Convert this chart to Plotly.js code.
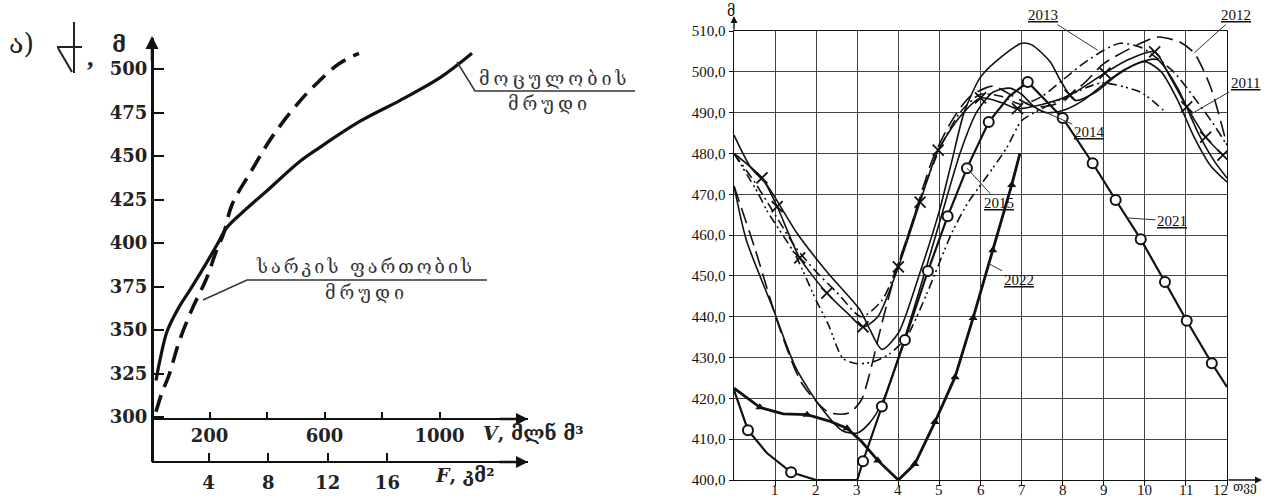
<!DOCTYPE html>
<html><head><meta charset="utf-8">
<script src="https://cdn.plot.ly/plotly-3.0.1.min.js"></script>
<style>html,body{margin:0;padding:0;background:#fff}#chart{width:1266px;height:501px}</style>
</head><body><div id="chart"></div>
<script>
// ---------- LEFT CHART DATA ----------
const volumeV = [14, 28, 52, 90, 132, 184, 226, 261, 324, 393, 515, 584, 724, 863, 1002, 1113];
const volumeH = [321, 333, 349, 362, 373, 387, 399, 409, 419, 429, 447, 455, 470, 482, 495, 509];
const areaF = [0.47, 0.87, 1.34, 2.01, 2.89, 3.83, 4.50, 5.03, 5.57, 6.91, 8.26, 10.07, 11.41, 12.75, 14.09];
const areaH = [303, 314, 324, 343, 362, 379, 395, 406, 422, 442, 461, 481, 493, 503, 509];
const leftYTicks = [300, 325, 350, 375, 400, 425, 450, 475, 500];
const vTicks = [200, 400, 600, 800, 1000];
const vTickText = ['200', '', '600', '', '1000'];
const fTicks = [4, 8, 12, 16];

// ---------- RIGHT CHART DATA ----------
const monthTicks = [1,2,3,4,5,6,7,8,9,10,11,12];
const levelTicks = [400,410,420,430,440,450,460,470,480,490,500,510];

const m2011 = [0, 0.68, 1.05, 1.6, 2.26, 2.8, 3.14, 3.5, 4.0, 4.53, 4.97, 5.5, 6.0, 6.5, 6.9, 7.5, 8.18, 9.03, 9.6, 10.24, 10.6, 11.02, 11.48, 11.9];
const v2011 = [480, 474, 467, 454.4, 445.8, 440.5, 437.5, 440, 452.2, 468.1, 480.8, 489, 493.6, 492.5, 491, 492, 494.3, 499.7, 503, 504.9, 499, 491.4, 484, 479.6];
const m2011x = [0.68, 1.05, 1.6, 2.26, 3.14, 4.0, 4.53, 4.97, 6.0, 6.9, 8.18, 9.03, 10.24, 11.02, 11.48, 11.9];
const v2011x = [474, 467, 454.4, 445.8, 437.5, 452.2, 468.1, 480.8, 493.6, 491, 494.3, 499.7, 504.9, 491.4, 484, 479.6];

const m2012 = [0, 0.5, 1.1, 1.65, 2.3, 2.8, 3.1, 3.3, 3.6, 3.95, 4.3, 4.85, 5.3, 5.75, 6.3, 6.8, 7.3, 7.8, 8.5, 9.0, 9.7, 10.3, 10.85, 11.2, 11.6, 12];
const v2012 = [472, 457, 437.5, 423.7, 416.6, 416.4, 419.6, 426, 438.4, 451.4, 462, 479, 488, 494, 496.5, 494, 491.5, 492, 497, 502, 506, 508.5, 507.3, 504.6, 496.3, 482];

const m2013 = [0, 0.5, 1.0, 1.5, 2.0, 2.5, 3.1, 3.6, 4.0, 4.5, 5.0, 5.5, 6.0, 6.5, 7.0, 7.5, 8.0, 8.5, 9.0, 9.4, 9.9, 10.7, 11.25, 11.65, 12];
const v2013 = [480, 473, 465, 457, 451, 446, 440, 444, 453, 468, 481, 490, 494.5, 494, 492, 494, 498, 502, 505.3, 507, 506, 500, 493, 487.5, 482];

const m2014 = [0, 0.3, 0.95, 1.5, 2.1, 2.65, 3.0, 3.3, 3.6, 4.0, 4.5, 5.0, 5.5, 5.9, 6.3, 6.7, 7.0, 7.3, 7.6, 8.0, 8.5, 9.0, 9.5, 10.0, 10.4, 10.8, 11.2, 11.6, 12];
const v2014 = [472, 458.8, 442, 427.6, 418, 412, 411.5, 414, 418.8, 430, 446, 463, 480, 490, 495, 496, 494.5, 491.5, 490, 490.5, 493, 497, 500.5, 502.5, 500, 493, 484, 477, 473];

const mOther = [0, 0.4, 0.8, 1.53, 2.26, 3.07, 3.3, 3.6, 4.0, 4.5, 5.0, 5.3, 5.6, 6.0, 6.5, 7.0, 7.25, 7.7, 7.94, 8.3, 8.8, 9.3, 9.8, 10.3, 10.8, 11.3, 11.7, 12];
const vOther = [484.5, 476.7, 472.3, 460.5, 451, 441.6, 437, 432, 436, 450, 466, 478, 490, 498.7, 503.6, 507, 506.6, 502.4, 498, 493, 495, 499, 502, 503, 496, 485, 478, 474];

const m2015 = [0, 0.6, 0.8, 1.5, 2.0, 2.3, 2.65, 3.0, 3.4, 3.8, 4.2, 4.7, 5.3, 5.7, 6.3, 6.65, 7.0, 7.5, 8.0, 8.75, 9.0, 9.9, 10.45];
const v2015 = [480, 470, 466, 455, 444, 438, 429.8, 428.5, 429, 431, 435, 445.8, 460.5, 468, 476.4, 481.6, 488, 491, 493.5, 496.8, 497.3, 495, 490.6];

const m2021 = [0, 0.34, 0.8, 1.39, 2.0, 3.0, 3.14, 3.6, 4.16, 4.72, 5.2, 5.67, 6.2, 6.7, 7.15, 8.0, 8.73, 9.29, 9.9, 10.49, 11.02, 11.63, 12];
const v2021 = [422, 412.2, 406.6, 401.9, 400, 400, 404.6, 418, 434.3, 451.2, 464.6, 476.4, 487.7, 494, 497.5, 488.7, 477.6, 468.6, 459, 448.5, 439, 428.6, 422.8];
const m2021o = [0.34, 1.39, 3.14, 3.6, 4.16, 4.72, 5.2, 5.67, 6.2, 7.15, 8.0, 8.73, 9.29, 9.9, 10.49, 11.02, 11.63];
const v2021o = [412.2, 401.9, 404.6, 418, 434.3, 451.2, 464.6, 476.4, 487.7, 497.5, 488.7, 477.6, 468.6, 459, 448.5, 439, 428.6];

const m2022 = [0, 0.63, 1.2, 1.78, 2.3, 2.75, 3.1, 3.5, 4.0, 4.4, 4.89, 5.38, 5.82, 6.3, 6.76, 6.96];
const v2022 = [422.5, 417.8, 416.2, 416, 414.5, 412.7, 409.5, 404.8, 400, 403.9, 414.2, 425.2, 439.7, 456.3, 472.3, 480];
const m2022t = [0.63, 1.78, 2.75, 3.5, 4.4, 4.89, 5.38, 5.82, 6.3, 6.76];
const v2022t = [417.8, 416, 412.7, 404.8, 403.9, 414.2, 425.2, 439.7, 456.3, 472.3];

// ---------- layout helpers ----------
const W = 1266, H = 501;
const px = x => x / W, py = y => 1 - y / H;
const INK = '#111';
const serif = 'Liberation Serif, Times New Roman, serif';
const geo = 'DejaVu Serif, DejaVu Sans, serif';
const boldSerif = {family: 'DejaVu Serif, serif', size: 18, color: '#222', weight: 'bold'};

const thin = (x, y, dash, name) => ({x, y, xaxis: 'x3', yaxis: 'y3', mode: 'lines', name,
  line: {color: INK, width: 1.6, dash: dash, shape: 'spline', smoothing: 0.7}, hoverinfo: 'skip'});

const traces = [
  // left chart
  {x: volumeV, y: volumeH, xaxis: 'x', yaxis: 'y', mode: 'lines',
   line: {color: INK, width: 3.2, shape: 'spline'}},
  {x: areaF, y: areaH, xaxis: 'x2', yaxis: 'y', mode: 'lines',
   line: {color: INK, width: 3.6, dash: '17px,9px', shape: 'spline'}},
  // right chart
  thin(m2011, v2011, 'solid', '2011'),
  {x: m2011x, y: v2011x, xaxis: 'x3', yaxis: 'y3', mode: 'markers',
   marker: {symbol: 'x-thin-open', size: 11, color: INK, line: {width: 1.8, color: INK}}},
  thin(m2012, v2012, '16px,7px', '2012'),
  thin(m2013, v2013, '10px,4px,2px,4px', '2013'),
  thin(m2014, v2014, 'solid', '2014'),
  thin(mOther, vOther, 'solid', ''),
  thin(m2015, v2015, '9px,4px,2px,3px,2px,4px', '2015'),
  {x: m2021, y: v2021, xaxis: 'x3', yaxis: 'y3', mode: 'lines',
   line: {color: INK, width: 2.2}},
  {x: m2021o, y: v2021o, xaxis: 'x3', yaxis: 'y3', mode: 'markers',
   marker: {symbol: 'circle', size: 10, color: '#fff', line: {width: 2, color: INK}}},
  {x: m2022, y: v2022, xaxis: 'x3', yaxis: 'y3', mode: 'lines',
   line: {color: INK, width: 2.8}},
  {x: m2022t, y: v2022t, xaxis: 'x3', yaxis: 'y3', mode: 'markers',
   marker: {symbol: 'triangle-up', size: 8, color: INK}}
];

const lab = (x, y, text, ax, ay) => ({xref: 'x3', yref: 'y3', x, y, ax, ay,
  text: '<span style="text-decoration:underline">' + text + '</span>',
  showarrow: true, arrowhead: 0, arrowwidth: 1, arrowcolor: '#333',
  font: {family: serif, size: 15, color: INK}});

const arrow = (tx, ty, ax, ay, w) => ({xref: 'paper', yref: 'paper', x: px(tx), y: py(ty),
  ax: ax, ay: ay, text: '', showarrow: true, arrowhead: 2, arrowsize: 1, arrowwidth: w, arrowcolor: INK});

const txt = (x, y, text, font, xanchor) => ({xref: 'paper', yref: 'paper', x: px(x), y: py(y),
  text, showarrow: false, font, xanchor: xanchor || 'center', yanchor: 'middle'});

const geoFont = {family: geo, size: 18, color: '#333'};

// month tick labels placed under the right chart's axis
const monthLabels = monthTicks.map(m => ({xref: 'x3', yref: 'paper', x: m, y: py(490),
  text: String(m), showarrow: false, font: {family: serif, size: 15, color: INK},
  xanchor: m === 12 ? 'right' : 'center', xshift: m === 12 ? 3 : 0, yanchor: 'middle'}));

const annotations = [
  // right chart labels
  lab(8.85, 505.3, '2013', -55, -35),
  lab(11.2, 504.6, '2012', 42, -38),
  lab(11.1, 489.5, '2011', 55, -32),
  lab(7.6, 490, '2014', 43, 19),
  lab(5.67, 476.4, '2015', 32, 35),
  lab(9.57, 464.2, '2021', 45, 3),
  lab(6.2, 453, '2022', 30, 16),
  ...monthLabels,
  // right axes arrows and titles
  arrow(1262, 480, -35, 0, 1.4),
  arrow(734, 16, 0, 15, 1.4),
  txt(731, 11, 'მ', {family: geo, size: 14, color: INK}),
  txt(1245, 487, 'თვე', {family: geo, size: 12, color: INK}),
  // left axes arrows
  arrow(152, 36, 0, 26, 2.6),
  arrow(528, 419, -30, 0, 2.4),
  arrow(528, 462, -30, 0, 2.4),
  // left texts
  txt(21, 43, 'ა)', {family: geo, size: 27, color: '#222'}),
  txt(90, 58, ',', {family: serif, size: 26, color: '#222', weight: 'bold'}),
  txt(119, 44, 'მ', {family: geo, size: 22, color: '#222', weight: 'bold'}),
  txt(554, 78, '<span style="letter-spacing:4px">მოცულობის</span>', geoFont),
  txt(549, 104, '<span style="letter-spacing:4px">მრუდი</span>', geoFont),
  txt(365, 266, '<span style="letter-spacing:3px">სარკის ფართობის</span>', geoFont),
  txt(366, 292, '<span style="letter-spacing:4px">მრუდი</span>', geoFont),
  txt(481, 433, '<i>V</i>, მლნ მ³', {family: 'DejaVu Serif, serif', size: 19, color: '#222', weight: 'bold'}, 'left'),
  txt(433, 475, '<i>F</i>, კმ²', {family: 'DejaVu Serif, serif', size: 19, color: '#222', weight: 'bold'}, 'left')
];

const seg = (pts) => 'M ' + pts.map(p => px(p[0]) + ',' + py(p[1])).join(' L ');
const shapes = [
  {type: 'path', xref: 'paper', yref: 'paper', path: seg([[457, 62], [475, 91], [635, 91]]), line: {color: '#333', width: 1.5}},
  {type: 'path', xref: 'paper', yref: 'paper', path: seg([[203, 300], [247, 280], [487, 280]]), line: {color: '#333', width: 1.5}},
  // water-level symbol
  {type: 'path', xref: 'paper', yref: 'paper', path: seg([[57, 47], [82, 47]]), line: {color: '#222', width: 2}},
  {type: 'path', xref: 'paper', yref: 'paper', path: seg([[74, 22], [74, 73]]), line: {color: '#222', width: 2}},
  {type: 'path', xref: 'paper', yref: 'paper', path: seg([[58, 48], [72, 72]]), line: {color: '#222', width: 2}}
];

const layout = {
  width: W, height: H, margin: {l: 0, r: 0, t: 0, b: 0},
  paper_bgcolor: '#fff', plot_bgcolor: 'rgba(0,0,0,0)',
  showlegend: false, separators: ',.',
  // left chart: V axis
  xaxis: {domain: [px(152), px(528)], range: [0, (528 - 152) / 57.5 * 200], anchor: 'free', position: py(419),
    showgrid: false, zeroline: false, showline: true, linecolor: INK, linewidth: 2.4,
    tickvals: vTicks, ticktext: vTickText, ticks: 'inside', ticklen: 6, tickwidth: 2, tickcolor: INK,
    tickfont: boldSerif, fixedrange: true},
  xaxis2: {domain: [px(152), px(528)], range: [(152 - 149) / 14.9, (528 - 149) / 14.9], anchor: 'free', position: py(462),
    overlaying: 'x', showgrid: false, zeroline: false, showline: true, linecolor: INK, linewidth: 2.4,
    tickvals: fTicks, ticks: 'inside', ticklen: 8, tickwidth: 2, tickcolor: INK, ticklabelstandoff: 4,
    tickfont: boldSerif, fixedrange: true},
  yaxis: {domain: [py(462), py(38)], range: [300 - (462 - 417) / 1.74, 500 + (69 - 38) / 1.74], anchor: 'free', position: px(152),
    showgrid: false, zeroline: false, showline: true, linecolor: INK, linewidth: 2.6,
    tickvals: leftYTicks, ticks: 'inside', ticklen: 10, tickwidth: 2, tickcolor: INK,
    tickfont: boldSerif, fixedrange: true},
  // right chart
  xaxis3: {domain: [px(734), px(1227)], range: [0, 12], anchor: 'y3',
    showgrid: true, gridcolor: '#444', gridwidth: 1, zeroline: false,
    showline: true, mirror: true, linecolor: INK, linewidth: 1.4,
    tickvals: monthTicks, ticks: 'outside', ticklen: 5, tickcolor: INK, showticklabels: false,
    fixedrange: true},
  yaxis3: {domain: [py(480), py(31)], range: [400, 510], anchor: 'x3',
    showgrid: true, gridcolor: '#444', gridwidth: 1, zeroline: false,
    showline: true, mirror: true, linecolor: INK, linewidth: 1.4,
    tickvals: levelTicks, tickformat: '.1f', ticks: 'outside', ticklen: 4, tickcolor: INK,
    tickfont: {family: serif, size: 15, color: INK}, fixedrange: true},
  annotations, shapes
};

Plotly.newPlot('chart', traces, layout, {staticPlot: true, displayModeBar: false});
</script></body></html>
